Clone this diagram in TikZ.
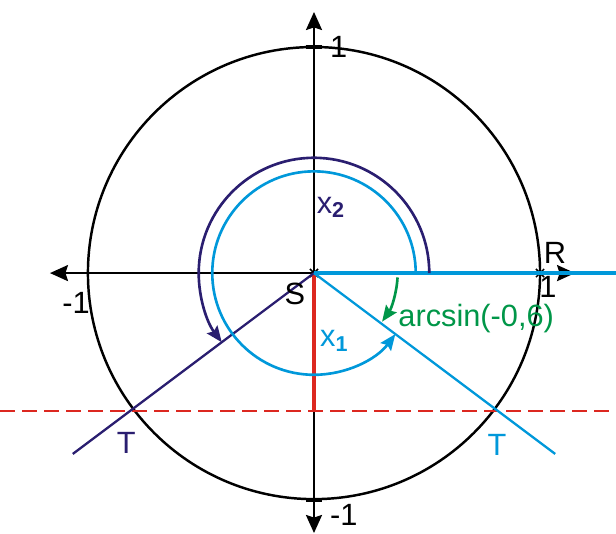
\documentclass[tikz,border=0pt]{standalone}
\usepackage{fontspec}
\setmainfont{Liberation Sans}
\usetikzlibrary{arrows.meta}
\definecolor{navyline}{RGB}{42,30,112}
\definecolor{cyanline}{RGB}{0,152,218}
\definecolor{greenline}{RGB}{0,150,72}
\definecolor{redline}{RGB}{220,40,32}
\tikzset{
  axis/.style={line width=1.3pt, -{Stealth[length=0.36cm, width=0.32cm, inset=0.05cm]}},
  unitcircle/.style={line width=1.4pt},
  tickmark/.style={line width=1.9pt},
  crossmark/.style={line width=0.9pt},
  ray/.style={line width=1.3pt},
  anglearc/.style={line width=1.5pt, -{Stealth[length=0.32cm, width=0.26cm, inset=0.05cm]}},
  lbl/.style={font=\fontsize{17.5}{20}\selectfont, inner sep=0pt}
}

\begin{document}
\begin{tikzpicture}[x=4.52cm, y=4.52cm]
        \useasboundingbox (-1.389,-1.150) rectangle (1.336,1.208);
        \coordinate (S) at (0,0);
        \coordinate (xleft) at (-1.168,0);
        \coordinate (xright) at (1.155,0);
        \coordinate (ytop) at (0,1.155);
        \coordinate (ybottom) at (0,-1.15);
        \coordinate (navyend) at (-1.067,-0.8);
        \coordinate (cyanend) at (1.067,-0.8);
        \coordinate (rayend) at (1.336,0);
        \coordinate (foot) at (0,-0.61);
        \coordinate (dashleft) at (-1.389,-0.61);
        \coordinate (dashright) at (1.336,-0.61);

        % axes and unit circle
        \draw [unitcircle] (S) circle[radius=1];
        \draw [axis] (S) -- (xleft);
        \draw [axis] (S) -- (xright);
        \draw [axis] (S) -- (ytop);
        \draw [axis] (S) -- (ybottom);
        \draw [tickmark] (-0.037,1) -- (0.037,1);
        \draw [tickmark] (-0.037,-1.005) -- (0.037,-1.005);
        \draw [crossmark] (-0.018,-0.018) -- (0.018,0.018) (-0.018,0.018) -- (0.018,-0.018);
        \draw [crossmark] (0.982,-0.018) -- (1.018,0.018) (0.982,0.018) -- (1.018,-0.018);

        % sine level
        \draw [redline, line width=1.6pt, dash pattern=on 0.3cm off 0.14cm] (dashleft) -- (dashright);
        \draw [redline, line width=2.8pt] (S) -- (foot);

        % rays
        \draw [cyanline, line width=2pt] (S) -- (rayend);
        \draw [ray, navyline] (S) -- (navyend);
        \draw [ray, cyanline] (S) -- (cyanend);

        % angles
        \draw [anglearc, navyline] (0.51,0) arc[start angle=0, end angle=216.87, radius=0.51];
        \draw [anglearc, cyanline] (0.45,0) arc[start angle=0, end angle=323.13, radius=0.45];
        \draw [anglearc, greenline] (-3:0.37) arc[start angle=-3, end angle=-35.5, radius=0.37];

        % labels
        \node (ytoplbl) [lbl, anchor=west] at (0.07,1.0) {1};
        \node (ybotlbl) [lbl, anchor=west] at (0.07,-1.07) {-1};
        \node (xleftlbl) [lbl] at (-1.053,-0.133) {-1};
        \node (xrightlbl) [lbl] at (1.035,-0.06) {1};
        \node (Rlbl) [lbl] at (1.066,0.088) {R};
        \node (Slbl) [lbl] at (-0.084,-0.09) {S};
        \node (x2lbl) [lbl, navyline] at (0.075,0.29) {x\textsubscript{\textbf{2}}};
        \node (x1lbl) [lbl, cyanline] at (0.09,-0.30) {x\textsubscript{\textbf{1}}};
        \node (arclbl) [lbl, greenline, anchor=west] at (0.372,-0.2) {arcsin(-0,6)};
        \node (Tleftlbl) [lbl, navyline] at (-0.83,-0.75) {T};
        \node (Trightlbl) [lbl, cyanline] at (0.81,-0.76) {T};
    \end{tikzpicture}
\end{document}
